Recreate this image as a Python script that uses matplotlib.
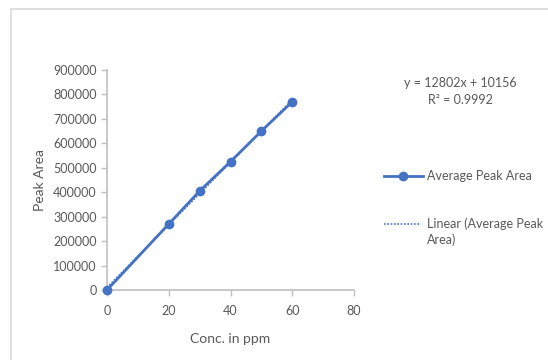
import numpy as np
import matplotlib
matplotlib.use('Agg')
import matplotlib.pyplot as plt
from matplotlib.lines import Line2D
from matplotlib.patches import Rectangle

plt.rcParams['font.family'] = ['Lato', 'DejaVu Sans']

# data
conc = [0, 20, 30, 40, 50, 60]
peak_area = [0, 270000, 405000, 525000, 650000, 770000]
slope, intercept = 12802, 10156
r2 = 0.9992

blue = '#4472C4'
grey_txt = '#595959'
grey_ax = '#BFBFBF'

fig = plt.figure(figsize=(5.48, 3.6), dpi=100)
ax = fig.add_axes([107 / 548, 1 - 290 / 360, (354 - 107) / 548, 220 / 360])

# outer chart border (clipped at right/bottom like the screenshot)
fig.patches.append(Rectangle((11 / 548, -0.1), 1.2, 1 - 9 / 360 + 0.1,
                             transform=fig.transFigure, fill=False,
                             edgecolor='#D9D9D9', linewidth=1.2))

ax.plot(conc, peak_area, color=blue, linewidth=2, marker='o', markersize=6,
        label='Average Peak Area', zorder=3, clip_on=False)
xs = np.array([conc[0], conc[-1]])
ax.plot(xs, slope * xs + intercept, color=blue, linewidth=1.2,
        linestyle=(0, (1, 1)), zorder=4)

ax.set_xlim(0, 80)
ax.set_ylim(0, 900000)
ax.set_xticks([0, 20, 40, 60, 80])
ax.set_yticks(np.arange(0, 900001, 100000))
ax.set_yticklabels([str(v) for v in range(0, 900001, 100000)])
ax.margins(0)
for s in ['top', 'right']:
    ax.spines[s].set_visible(False)
for s in ['left', 'bottom']:
    ax.spines[s].set_color(grey_ax)
    ax.spines[s].set_linewidth(1.2)
ax.tick_params(colors=grey_ax, labelcolor=grey_txt, labelsize=9,
               length=4, width=1)
ax.tick_params(axis='x', pad=7)
ax.set_xlabel('Conc. in ppm', color=grey_txt, fontsize=10, labelpad=11)
ax.set_ylabel('Peak Area', color=grey_txt, fontsize=10, labelpad=5)

# trendline equation
fig.text(460 / 548, 1 - 83 / 360, f'y = {slope}x + {intercept}', ha='center',
         va='center', fontsize=9, color=grey_txt)
fig.text(460 / 548, 1 - 100 / 360, f'R² = {r2}', ha='center', va='center',
         fontsize=9, color=grey_txt)

# legend drawn by hand to match the layout
fig.lines.append(Line2D([384 / 548, 423 / 548], [1 - 176 / 360] * 2,
                        transform=fig.transFigure, color=blue, linewidth=2))
fig.lines.append(Line2D([403.5 / 548], [1 - 176 / 360],
                        transform=fig.transFigure, color=blue, marker='o',
                        markersize=6))
fig.text(427 / 548, 1 - 176 / 360, 'Average Peak Area', va='center',
         fontsize=9, color=grey_txt)
fig.lines.append(Line2D([384 / 548, 421 / 548], [1 - 224 / 360] * 2,
                        transform=fig.transFigure, color=blue, linewidth=1.2,
                        linestyle=(0, (1, 1))))
fig.text(427 / 548, 1 - 224 / 360, 'Linear (Average Peak', va='center',
         fontsize=9, color=grey_txt)
fig.text(427 / 548, 1 - 240 / 360, 'Area)', va='center',
         fontsize=9, color=grey_txt)

fig.savefig('out.png', dpi=100)
